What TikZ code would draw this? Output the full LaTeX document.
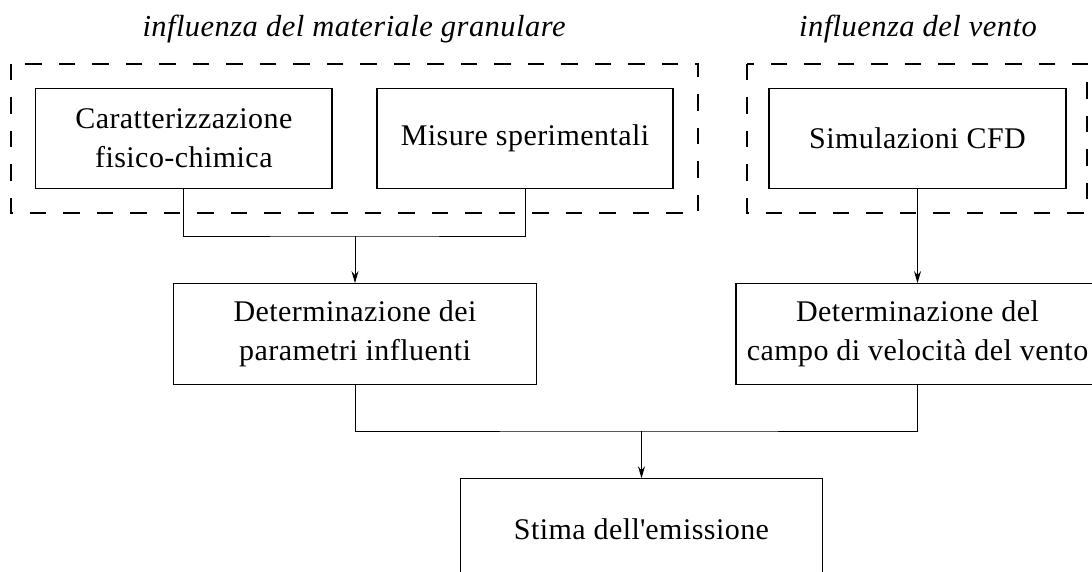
\documentclass[tikz,border=0pt]{standalone}
\usepackage{fontspec}
\setmainfont{Liberation Serif}[LetterSpace=1.5]
\usetikzlibrary{arrows.meta}
\begin{document}
\begin{tikzpicture}[x=1pt,y=-1pt,
  box/.style={draw,line width=1.1pt,align=center,inner sep=0pt,
    font=\fontsize{30}{39}\selectfont},
  titletext/.style={font=\fontsize{30.5}{39}\selectfont\itshape,inner sep=0pt,anchor=base},
  dashbox/.style={draw,line width=2pt,dash pattern=on 16.5pt off 17pt},
  link/.style={draw,line width=1pt},
  arr/.style={link,-{Stealth[length=12pt,width=7pt,inset=4pt]}}]
\clip (0,0) rectangle (1092,572);
% titles
\node[titletext] (t1) at (354,37) {influenza del materiale granulare};
\node[titletext] (t2) at (918,37) {influenza del vento};
% dashed groups
\draw[dashbox] (11,64) rectangle (698,213);
\draw[dashbox] (747,64) rectangle (1087,213);
% boxes
\node[box,minimum width=296.3pt,minimum height=100.7pt] (car) at (183.85,138.5) {Caratterizzazione\\fisico-chimica};
\node[box,minimum width=296pt,minimum height=100.7pt] (mis) at (525,138.5) {Misure sperimentali};
\node[box,minimum width=297pt,minimum height=100.7pt] (sim) at (917.5,138.5) {Simulazioni CFD};
\node[box,minimum width=362.6pt,minimum height=100.7pt] (det1) at (355,334) {Determinazione dei\\parametri influenti};
\node[box,minimum width=363pt,minimum height=100.7pt] (det2) at (917.5,334) {Determinazione del\\campo di velocità del vento};
\node[box,minimum width=361.6pt,minimum height=101pt] (sti) at (641.5,529.3) {Stima dell\textquotesingle emissione};
% connectors
\coordinate (j1) at (355,236);
\coordinate (j2) at (641.5,431);
\draw[link] (car.south) |- (j1) -| (mis.south);
\draw[arr] (j1) -- (det1.north);
\draw[arr] (sim.south) -- (det2.north);
\draw[link] (det1.south) |- (j2) -| (det2.south);
\draw[arr] (j2) -- (sti.north);
\end{tikzpicture}
\end{document}
